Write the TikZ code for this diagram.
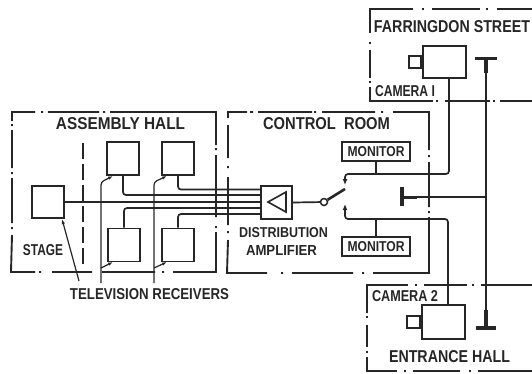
\documentclass[tikz,border=0pt]{standalone}
\usepackage{graphicx}
\usepackage{fontspec}
\setmainfont{Liberation Sans}
\usetikzlibrary{arrows.meta}
\definecolor{ink}{HTML}{262626}
\newcommand{\lab}[3]{\resizebox{#1pt}{#2pt}{\bfseries #3}}
\tikzset{
  frame/.style={draw=ink,line width=1.9pt},
  partition/.style={draw=ink,line width=2pt,dash pattern=on 16pt off 5pt},
  unit/.style={draw=ink,line width=1.9pt,fill=white,inner sep=0pt},
  wire/.style={draw=ink,line width=1.7pt,rounded corners=3pt},
  lbl/.style={inner sep=0pt,text=ink},
  tag/.style={unit,line width=1.7pt},
  pointer/.style={draw=ink,line width=1.2pt,rounded corners=3pt,-{Latex[length=5pt,width=3.5pt]}},
  switchtip/.style={draw=ink,line width=1.7pt,rounded corners=3pt,{Latex[length=6pt,width=5pt]}-},
}
\begin{document}
\begin{tikzpicture}[x=1pt,y=-1pt]
\useasboundingbox (0,0) rectangle (532,373);
% Assembly hall frame
\draw[frame] (12,121) -- (12,112) -- (35,112) (41,112) -- (43,112) (48,112) -- (99,112) (103,112) -- (105,112) (110,112) -- (216,112) -- (216,145)
  (216,148) -- (216,150) (216,155) -- (216,217) (216,226) -- (216,228) (216,232) -- (216,272) -- (173,272)
  (164,272) -- (162,272) (155,272) -- (102,272) (92,272) -- (52,272) (41,272) -- (39,272) (35,272) -- (11,272) -- (12,235)
  (12,229) -- (12,227) (12,223) -- (12,178) (12,174) -- (12,172) (12,168) -- (12,130) (12,126) -- (12,124);
% Control room frame
\draw[frame] (228,118) -- (228,112) -- (247,112) (250,112) -- (253,112) (258,112) -- (312,112) (314,112) -- (316,112) (322,112) -- (375,112) (381,112) -- (383,112) (393,112) -- (429,112) -- (429,150)
  (429,155) -- (429,157) (429,162) -- (429,207) (429,211) -- (429,213) (429,217) -- (429,273) -- (373,273)
  (364,273) -- (362,273) (353,273) -- (292,273) (283,273) -- (281,273) (267,273) -- (227,273) -- (228,240)
  (228,233) -- (228,231) (228,225) -- (228,177) (228,168) -- (228,166) (228,158) -- (228,125);
% Farringdon Street frame
\draw[frame] (370,33) -- (370,9) -- (413,9) (422,9) -- (424,9) (432,9) -- (480,9) (486,9) -- (488,9) (497,9) -- (532,9);
\draw[frame] (370,42) -- (370,44) (370,50) -- (370,78) (370,81) -- (370,83) (370,87) -- (370,101) -- (433,101) (436,101) -- (438,101) (445,101) -- (490,101) (493,101) -- (495,101) (500,101) -- (532,101);
% Entrance Hall frame
\draw[frame] (367,313) -- (367,285) -- (408,285) (415,285) -- (417,285) (424,285) -- (467,285) (472,285) -- (474,285) (481,285) -- (532,285);
\draw[frame] (367,316) -- (367,318) (367,325) -- (367,347) (367,351) -- (367,353) (367,357) -- (367,371) -- (397,371) (404,371) -- (406,371) (413,371) -- (460,371) (469,371) -- (471,371) (478,371) -- (532,371);
\draw[partition] (83,143) -- (83,268);
% units
\node[unit,minimum width=32pt,minimum height=32pt] (stage) at (48,202) {};
\node[unit,minimum width=32pt,minimum height=33pt] (rtl) at (123,158.5) {};
\node[unit,minimum width=32pt,minimum height=33pt] (rtr) at (178,158.5) {};
\node[unit,minimum width=32pt,minimum height=33pt] (rbl) at (124,245) {};
\node[unit,minimum width=32pt,minimum height=33pt] (rbr) at (178,245) {};
\node[unit,minimum width=31pt,minimum height=33pt] (amp) at (276.5,202.5) {};
\node[tag,minimum width=68pt,minimum height=19pt] (mon1) at (376,151.5) {};
\node[tag,minimum width=68pt,minimum height=19pt] (mon2) at (376,246.5) {};
\node[unit,minimum width=43pt,minimum height=32pt] (cam1) at (444.5,62) {};
\node[unit,minimum width=12pt,minimum height=12pt,anchor=east] (lens1) at (cam1.west) {};
\node[unit,minimum width=43pt,minimum height=34pt] (cam2) at (443.5,322) {};
\node[unit,minimum width=13pt,minimum height=12pt,anchor=east] (lens2) at (cam2.west) {};
\draw[ink,line width=1.6pt] (268,202) -- (286,192) -- (286,212) -- cycle;
% coordinates
\coordinate (a1) at (261,189.5);
\coordinate (a2) at (261,195);
\coordinate (a3) at (261,208);
\coordinate (a4) at (261,214);
\coordinate (a5) at (261,202);
\coordinate (swL) at (324,202);
\coordinate (up) at (345,185);
\coordinate (dn) at (345,204);
\coordinate (upb) at (345,174);
\coordinate (dnb) at (345,219);
\coordinate (micC) at (401,197);
\coordinate (micS) at (417,197);
\coordinate (micT) at (486,58);
\coordinate (micB) at (486,328);
\coordinate (micJ) at (486,197);
% amplifier wiring
\draw[wire] (rtl.south) |- (a2);
\draw[wire] (rtr.south) |- (a1);
\draw[wire] (rbl.north) |- (a3);
\draw[wire] (rbr.north) |- (a4);
\draw[wire] (stage.east) -- (a5);
\draw[wire] (amp.east) -- (swL);
\node[draw=ink,line width=1.5pt,circle,fill=white,minimum size=7pt,inner sep=0pt] (sw) at (swL) {};
\draw[draw=ink,line width=2.6pt] (sw) -- (345,189);
% camera feeds
\draw[switchtip] (up) -- (upb) -- (449,174) -- (449,78);
\draw[switchtip] (dn) -- (dnb) -- (448,219) -- (448,305);
\draw[wire] (mon1.south) -- (376,174);
\draw[wire] (mon2.north) -- (376,219);
% microphones
\draw[draw=ink,line width=4pt] (402,187) -- (402,206);
\draw[draw=ink,line width=3pt] (micC) -- (micS);
\draw[wire] (micS) -- (micJ);
\draw[wire] (micT) -- (micB);
\draw[draw=ink,line width=3pt] (475,58) -- (497,58);
\draw[draw=ink,line width=4pt] (486,58) -- (486,73);
\draw[draw=ink,line width=3.5pt] (476,328) -- (496,328);
\draw[draw=ink,line width=4pt] (486,310) -- (486,328);
% pointers
\coordinate (pS) at (79,281);
\coordinate (p1) at (101,283);
\coordinate (p2) at (154,283);
\draw[pointer] (pS) -- (62,219);
\draw[pointer] (p1) -- (101,182) -- (113,176);
\draw[pointer] (p2) -- (154,182) -- (167,176);
\draw[pointer] (101,268) -- (113,262);
\draw[pointer] (154,268) -- (167,262);
% labels
\node[lbl] (tAss) at (120.5,123.5) {\lab{129}{12}{ASSEMBLY HALL}};
\node[lbl] (tSta) at (43,250) {\lab{40}{11}{STAGE}};
\node[lbl] (tTv) at (149.5,294.5) {\lab{159}{11}{TELEVISION RECEIVERS}};
\node[lbl] (tCon) at (326.5,124) {\lab{127}{12}{CONTROL\ \ ROOM}};
\node[lbl] (tMo1) at (mon1) {\lab{57}{10}{MONITOR}};
\node[lbl] (tMo2) at (mon2) {\lab{57}{10}{MONITOR}};
\node[lbl] (tDis) at (283.5,233) {\lab{89}{10}{DISTRIBUTION}};
\node[lbl] (tAmp) at (281.5,250) {\lab{71}{10}{AMPLIFIER}};
\node[lbl] (tFar) at (452,26.5) {\lab{156}{12}{FARRINGDON STREET}};
\node[lbl] (tCa1) at (405,91) {\lab{60}{11}{CAMERA I}};
\node[lbl] (tCa2) at (405,296.5) {\lab{66}{11}{CAMERA 2}};
\node[lbl] (tEnt) at (449.5,356.5) {\lab{121}{12}{ENTRANCE HALL}};
\end{tikzpicture}
\end{document}
